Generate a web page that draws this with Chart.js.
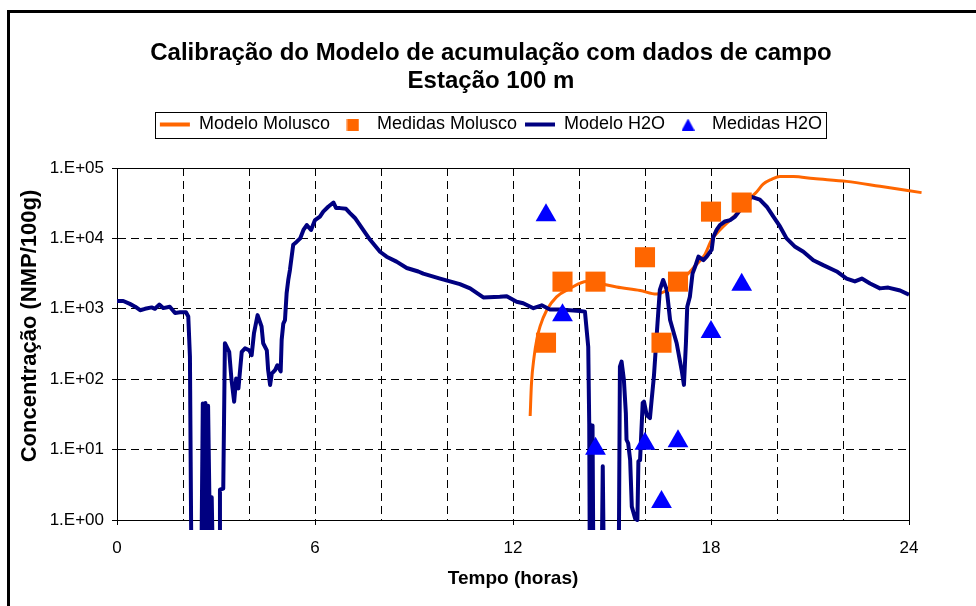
<!DOCTYPE html>
<html>
<head>
<meta charset="utf-8">
<script src="https://cdn.jsdelivr.net/npm/chart.js@4/dist/chart.umd.min.js"></script>
<style>
  html, body { margin: 0; padding: 0; background: #fff; }
  #chart { display: block; }
</style>
</head>
<body>
<canvas id="chart" width="976" height="606"></canvas>
<script>
// Calibração do modelo - Estação 100 m
const FONT = "'Liberation Sans', Arial, sans-serif";

// Modelo Molusco (linha laranja) - the last point lies just past 24 h, as in the original
const molModelHours = [12.52, 12.56, 12.64, 12.72, 12.82, 13.02, 13.32, 13.73, 14.23, 14.64,
  15.14, 15.85, 16.35, 16.8, 17.2, 17.5, 17.8, 18.02, 18.27, 18.58,
  18.88, 19.18, 19.38, 19.58, 19.84, 20.09, 20.5, 21.1, 22.11, 23.12, 24.38];
const molModelValues = [30, 87, 209, 363, 562, 955, 1480, 1950, 2450, 2290,
  2040, 1820, 1620, 2000, 2820, 3980, 5750, 9550, 13180, 18200,
  25120, 37150, 45710, 58880, 69180, 75860, 75860, 70790, 64570, 54950, 44670];

// Medidas Molusco (quadrados)
const molMeasHours  = [13.0, 13.5, 14.5, 16.0, 16.5, 17.0, 18.0, 18.93];
const molMeasValues = [330, 2430, 2430, 5400, 330, 2430, 24000, 32300];

// Modelo H2O (linha azul escura); 0.1 = abaixo do eixo
const h2oModelHours = [0.00, 0.19, 0.39, 0.55, 0.70, 0.85, 1.05, 1.15, 1.28, 1.40,
  1.60, 1.76, 1.91, 2.09, 2.16, 2.21, 2.26, 2.55, 2.60, 2.63,
  2.68, 2.72, 2.76, 2.80, 2.83, 2.87, 2.92, 3.10, 3.12, 3.22,
  3.27, 3.40, 3.47, 3.55, 3.61, 3.68, 3.78, 3.88, 4.01, 4.08,
  4.15, 4.26, 4.38, 4.43, 4.54, 4.58, 4.64, 4.69, 4.79, 4.86,
  4.96, 4.99, 5.04, 5.09, 5.14, 5.19, 5.24, 5.34, 5.44, 5.55,
  5.65, 5.75, 5.88, 6.00, 6.15, 6.25, 6.40, 6.56, 6.64, 6.76,
  6.94, 7.06, 7.21, 7.46, 7.67, 7.97, 8.17, 8.47, 8.78, 9.13,
  9.28, 9.79, 10.39, 10.70, 11.10, 11.60, 11.81, 12.11, 12.31, 12.62,
  12.87, 13.12, 13.42, 14.03, 14.18, 14.28, 14.31, 14.33, 14.38, 14.41,
  14.44, 14.68, 14.72, 14.76, 15.20, 15.24, 15.29, 15.36, 15.42, 15.44,
  15.49, 15.55, 15.60, 15.70, 15.77, 15.80, 15.85, 15.93, 15.97, 16.05,
  16.15, 16.20, 16.27, 16.33, 16.40, 16.45, 16.55, 16.66, 16.76, 16.96,
  17.11, 17.18, 17.24, 17.28, 17.36, 17.44, 17.52, 17.62, 17.77, 17.87,
  18.02, 18.07, 18.17, 18.27, 18.42, 18.58, 18.73, 18.83, 18.93, 19.23,
  19.48, 19.69, 19.89, 20.09, 20.29, 20.55, 20.80, 21.10, 21.40, 21.81,
  22.11, 22.36, 22.57, 22.82, 23.12, 23.37, 23.73, 24.00];
const h2oModelValues = [1290, 1290, 1175, 1072, 955, 1000, 1047, 1000, 1148, 1023,
  1072, 871, 891, 891, 776, 209, 0.1, 0.1, 45, 0.1,
  46, 0.1, 42, 2.0, 0.1, 2.1, 0.1, 0.1, 2.7, 2.8,
  324, 245, 98, 48, 102, 74, 245, 275, 257, 219,
  447, 813, 562, 324, 257, 135, 83, 120, 135, 158,
  129, 363, 617, 692, 1660, 2570, 3550, 8130, 8910, 10000,
  13180, 15490, 13180, 18200, 20420, 23990, 28180, 32360, 26920, 26920,
  26300, 22910, 19500, 13180, 9550, 6460, 5500, 4680, 3800, 3390,
  3160, 2690, 2240, 1950, 1450, 1480, 1510, 1260, 1200, 1020,
  1120, 977, 977, 933, 912, 288, 23, 0.1, 0.1, 22,
  0.1, 0.1, 5.8, 0.1, 0.1, 151, 178, 98, 33, 13.8,
  12.3, 7.1, 1.55, 1.05, 1.0, 6.8, 7.1, 46, 48, 31,
  28, 50, 110, 288, 871, 1860, 2570, 1860, 692, 324,
  135, 83, 324, 1070, 1480, 3160, 3980, 5500, 4900, 5500,
  6920, 10470, 13180, 15490, 17380, 18200, 20420, 23440, 26920, 38900,
  35480, 28180, 20420, 14790, 10000, 7590, 6460, 4900, 4170, 3390,
  2690, 2450, 2690, 2290, 1950, 2000, 1820, 1580];

// Medidas H2O (triângulos)
const h2oMeasHours  = [13.0, 13.5, 14.5, 16.0, 16.5, 17.0, 18.0, 18.93];
const h2oMeasValues = [21300, 810, 10.3, 12.1, 1.8, 13.1, 470, 2200];

const yTicks = [1, 10, 100, 1000, 10000, 100000];
const xLabelHours = [0, 6, 12, 18, 24];
const yTitle = "Concentração (NMP/100g)";

const toPoints = (xs, ys) => xs.map((x, i) => ({ x: x, y: ys[i] }));

// small legend icons (square / triangle)
function makeIcon(kind, color) {
  const c = document.createElement("canvas");
  c.width = 13; c.height = 12;
  const g = c.getContext("2d");
  g.fillStyle = color;
  if (kind === "square") {
    g.fillRect(0.5, 0, 12, 12);
  } else {
    g.beginPath(); g.moveTo(6.5, 0); g.lineTo(13, 12); g.lineTo(0, 12); g.closePath(); g.fill();
  }
  return c;
}
const legendIcons = { 1: makeIcon("square", "#FF6600"), 3: makeIcon("triangle", "#0000FF") };

const framePlugin = {
  id: "frame",
  beforeDraw(chart) {
    const { ctx, width, height } = chart;
    ctx.save();
    ctx.fillStyle = "#fff";
    ctx.fillRect(0, 0, width, height);
    ctx.fillStyle = "#000";
    ctx.fillRect(7, 10, width - 7, 3);
    ctx.fillRect(7, 10, 3, height - 10);
    ctx.restore();
  },
  beforeDatasetsDraw(chart) {
    const a = chart.chartArea;
    const ctx = chart.ctx;
    ctx.save();
    ctx.strokeStyle = "#000";
    ctx.lineWidth = 1;
    ctx.strokeRect(Math.round(a.left) + 0.5, Math.round(a.top) + 0.5,
      Math.round(a.right - a.left), Math.round(a.bottom - a.top));
    ctx.restore();
  },
  afterDraw(chart) {
    const ctx = chart.ctx;
    // y axis title (sits a little above the plot's middle in the original)
    ctx.save();
    ctx.translate(30, 326);
    ctx.rotate(-Math.PI / 2);
    ctx.fillStyle = "#000";
    ctx.font = "bold 22px " + FONT;
    ctx.textAlign = "center";
    ctx.textBaseline = "middle";
    ctx.fillText(yTitle, 0, 0);
    ctx.restore();

    // box around the legend
    const lg = chart.legend;
    if (!lg || !lg.legendHitBoxes.length) return;
    const hb = lg.legendHitBoxes;
    const left = Math.min(...hb.map(h => h.left)) - 5;
    const right = Math.max(...hb.map(h => h.left + h.width)) + 4;
    const top = hb[0].top - 4;
    ctx.save();
    ctx.strokeStyle = "#000";
    ctx.lineWidth = 1;
    ctx.strokeRect(Math.round(left) + 0.5, Math.round(top) + 0.5, Math.round(right - left), Math.round(hb[0].height + 8));
    ctx.restore();
  }
};

new Chart(document.getElementById("chart"), {
  type: "scatter",
  data: {
    datasets: [
      {
        label: "Modelo Molusco",
        data: toPoints(molModelHours, molModelValues),
        showLine: true,
        borderColor: "#FF6600",
        backgroundColor: "#FF6600",
        borderWidth: 3,
        pointRadius: 0,
        pointStyle: "line",
        cubicInterpolationMode: "monotone",
        clip: false,
        order: 3
      },
      {
        label: "Medidas Molusco",
        data: toPoints(molMeasHours, molMeasValues),
        pointStyle: "rect",
        pointRadius: 14.2,
        pointHoverRadius: 14.2,
        backgroundColor: "#FF6600",
        borderColor: "#FF6600",
        borderWidth: 0,
        order: 1
      },
      {
        label: "Modelo H2O",
        data: toPoints(h2oModelHours, h2oModelValues),
        showLine: true,
        borderColor: "#000080",
        backgroundColor: "#000080",
        borderWidth: 4,
        borderJoinStyle: "round",
        pointRadius: 0,
        pointStyle: "line",
        clip: { left: 0, top: 0, right: 0, bottom: 10 },
        order: 2
      },
      {
        label: "Medidas H2O",
        data: toPoints(h2oMeasHours, h2oMeasValues),
        pointStyle: "triangle",
        pointRadius: 12,
        pointHoverRadius: 12,
        backgroundColor: "#0000FF",
        borderColor: "#0000FF",
        borderWidth: 0,
        order: 0
      }
    ]
  },
  options: {
    responsive: false,
    animation: false,
    devicePixelRatio: 1,
    layout: { padding: { left: 6, right: 0, top: 0, bottom: 0 } },
    plugins: {
      title: {
        display: true,
        text: ["Calibração do Modelo de acumulação com dados de campo", "Estação 100 m"],
        color: "#000",
        font: { family: FONT, size: 24, weight: "bold", lineHeight: "28px" },
        padding: { top: 39, bottom: 12.5 }
      },
      legend: {
        display: true,
        position: "top",
        labels: {
          color: "#000",
          font: { family: FONT, size: 18 },
          usePointStyle: true,
          pointStyleWidth: 30,
          padding: 8,
          sort: (a, b) => a.datasetIndex - b.datasetIndex,
          generateLabels(chart) {
            const items = Chart.defaults.plugins.legend.labels.generateLabels(chart);
            items.forEach(it => {
              if (legendIcons[it.datasetIndex]) it.pointStyle = legendIcons[it.datasetIndex];
              else it.lineWidth = 4;
            });
            return items;
          }
        }
      },
      subtitle: {
        // spacer between legend and plot area
        display: true,
        text: "",
        weight: 500,
        padding: 0,
        font: { size: 10, lineHeight: "24.5px" }
      },
      tooltip: { enabled: false }
    },
    scales: {
      x: {
        type: "linear",
        min: 0,
        max: 24,
        afterFit: s => { s.height = 86; },
        ticks: {
          stepSize: 2,
          autoSkip: false,
          maxRotation: 0,
          padding: 13,
          color: "#000",
          font: { family: FONT, size: 17 },
          callback: v => xLabelHours.includes(v) ? String(v) : ""
        },
        grid: {
          color: c => (c.tick && (c.tick.value === 0 || c.tick.value === 24)) ? "transparent" : "#000",
          lineWidth: 1,
          tickLength: 5,
          tickColor: c => (c.tick && xLabelHours.includes(c.tick.value)) ? "#000" : "transparent"
        },
        border: { display: true, color: "#000", width: 1, dash: [8, 5] },
        title: {
          display: true,
          text: "Tempo (horas)",
          color: "#000",
          font: { family: FONT, size: 19, weight: "bold", lineHeight: 1.2 },
          padding: { top: 0, bottom: 16 }
        }
      },
      y: {
        type: "logarithmic",
        min: 1,
        max: 100000,
        afterFit: s => { s.width = 111; },
        afterBuildTicks: s => { s.ticks = yTicks.map(v => ({ value: v })); },
        ticks: {
          padding: 8,
          color: "#000",
          font: { family: FONT, size: 17 },
          callback: v => "1.E+" + String(Math.round(Math.log10(v))).padStart(2, "0")
        },
        grid: {
          color: "#000",
          lineWidth: 1,
          tickLength: 5,
          tickColor: "#000"
        },
        border: { display: true, color: "#000", width: 1, dash: [8, 5] },
        title: { display: false }
      },
      yRight: {
        // empty box that keeps the plot's right edge where the original has it
        type: "linear",
        position: "right",
        display: true,
        min: 0,
        max: 1,
        afterFit: s => { s.width = 67; },
        ticks: { display: false },
        grid: { display: false, drawTicks: false },
        border: { display: false }
      }
    }
  },
  plugins: [framePlugin]
});
</script>
</body>
</html>
